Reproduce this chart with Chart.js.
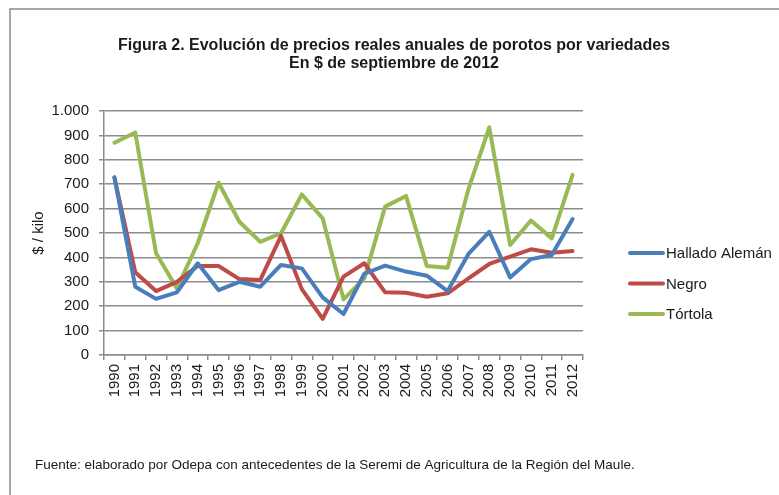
<!DOCTYPE html>
<html>
<head>
<meta charset="utf-8">
<script src="https://cdn.jsdelivr.net/npm/chart.js@4"></script>
<style>
html, body { margin: 0; padding: 0; background: #fff; }
</style>
</head>
<body>
<canvas id="myChart" width="779" height="495"></canvas>
<script>
const years = ['1990', '1991', '1992', '1993', '1994', '1995', '1996', '1997', '1998', '1999', '2000',
    '2001', '2002', '2003', '2004', '2005', '2006', '2007', '2008', '2009', '2010', '2011', '2012'];
const hallado = [728, 280, 230, 257, 376, 266, 300, 280, 369, 355, 236, 168, 333, 366, 342, 325, 262, 414, 505, 318, 393, 410, 557];
const negro = [728, 339, 262, 300, 365, 365, 311, 307, 488, 270, 148, 321, 376, 257, 255, 239, 253, 314, 373, 403, 433, 419, 426];
const tortola = [870, 912, 417, 273, 458, 706, 546, 464, 499, 658, 560, 228, 314, 608, 652, 365, 358, 680, 933, 451, 551, 478, 738];
const yTickValues = [0, 100, 200, 300, 400, 500, 600, 700, 800, 900, 1000];

const titleLines = ['Figura 2. Evolución de precios reales anuales de porotos por variedades', 'En $ de septiembre de 2012'];
const footerText = 'Fuente: elaborado por Odepa con antecedentes de la Seremi de Agricultura de la Región del Maule.';

const textColor = '#1a1a1a';
const gridColor = '#8c8c8c';

function fmt(v) {
    return String(v).replace(/\B(?=(\d{3})+(?!\d))/g, '.');
}

const extras = {
    id: 'extras',
    beforeDraw(chart) {
        const c = chart.ctx;
        c.save();
        c.strokeStyle = '#8a8a8a';
        c.lineWidth = 1.5;
        c.beginPath();
        c.moveTo(10, 500);
        c.lineTo(10, 9);
        c.lineTo(800, 9);
        c.stroke();
        c.restore();
    },
    afterDraw(chart) {
        const c = chart.ctx;
        c.save();
        // title
        c.fillStyle = textColor;
        c.font = 'bold 16px "Liberation Sans", Arial, sans-serif';
        c.textAlign = 'center';
        c.textBaseline = 'middle';
        titleLines.forEach((t, i) => c.fillText(t, 394, 46 + i * 18));
        // legend
        chart.data.datasets.forEach((ds, i) => {
            const y = 253 + i * 30.5;
            c.strokeStyle = ds.borderColor;
            c.lineWidth = 4;
            c.lineCap = 'round';
            c.beginPath();
            c.moveTo(630, y);
            c.lineTo(663, y);
            c.stroke();
            c.fillStyle = textColor;
            c.font = '15px "Liberation Sans", Arial, sans-serif';
            c.textBaseline = 'middle';
            c.textAlign = 'left';
            c.fillText(ds.label, 666, y + 1);
        });
        // footer
        c.fillStyle = textColor;
        c.font = '13.5px "Liberation Sans", Arial, sans-serif';
        c.textBaseline = 'middle';
        c.textAlign = 'left';
        c.fillText(footerText, 35, 465);
        c.restore();
    }
};

const ctx = document.getElementById('myChart').getContext('2d');
const chart = new Chart(ctx, {
    type: 'line',
    data: {
        labels: years,
        datasets: [
            {label: 'Hallado Alemán', data: hallado, borderColor: '#4a7ebb'},
            {label: 'Negro', data: negro, borderColor: '#be4b48'},
            {label: 'Tórtola', data: tortola, borderColor: '#98b954'},
        ].map(d => ({...d, borderWidth: 4, pointRadius: 0, tension: 0, borderCapStyle: 'round', borderJoinStyle: 'round', fill: false})),
    },
    options: {
        responsive: false,
        animation: false,
        layout: {padding: {left: 0, right: 196, top: 111, bottom: 0}},
        plugins: {
            legend: {display: false},
            tooltip: {enabled: false},
            title: {display: false},
        },
        scales: {
            x: {
                offset: true,
                grid: {drawOnChartArea: false, offset: true, tickLength: 5, color: gridColor, lineWidth: 1.5},
                border: {color: gridColor, width: 1.5},
                ticks: {
                    minRotation: 90, maxRotation: 90, padding: 4, autoSkip: false,
                    color: textColor, font: {family: '"Liberation Sans", Arial, sans-serif', size: 15},
                },
                afterFit(scale) { scale.height = 140; },
            },
            y: {
                min: 0,
                max: 1000,
                afterBuildTicks(scale) { scale.ticks = yTickValues.map(v => ({value: v})); },
                grid: {color: gridColor, lineWidth: 1.5, tickLength: 5},
                border: {color: gridColor, width: 1.5},
                ticks: {
                    padding: 10, color: textColor,
                    font: {family: '"Liberation Sans", Arial, sans-serif', size: 15},
                    callback: v => fmt(v),
                },
                title: {
                    display: true, text: '$ / kilo', color: textColor,
                    font: {family: '"Liberation Sans", Arial, sans-serif', size: 15},
                    padding: {top: 30, bottom: 0},
                },
                afterFit(scale) { scale.width = 104; },
            },
        },
    },
    plugins: [extras],
});
</script>
</body>
</html>
